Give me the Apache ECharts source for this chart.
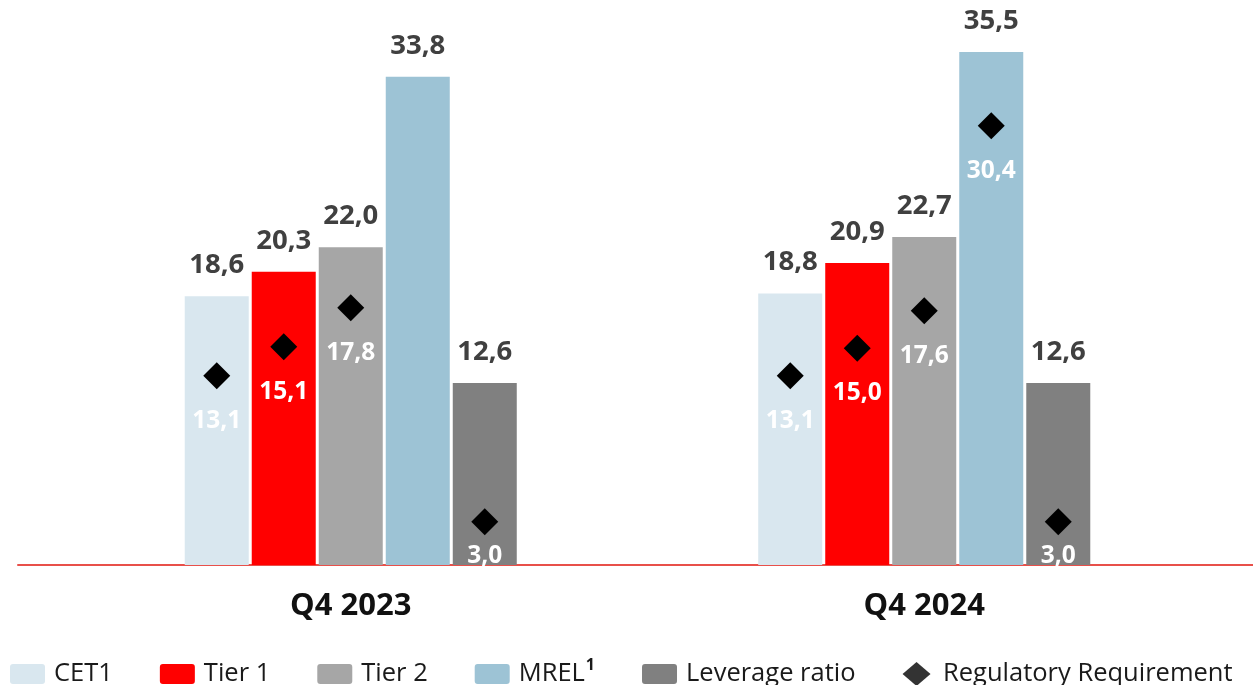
<!DOCTYPE html>
<html>
<head>
<meta charset="utf-8">
<script src="https://cdn.jsdelivr.net/npm/echarts@6/dist/echarts.min.js"></script>
<style>
html,body{margin:0;padding:0;background:#fff;}
#chart{width:1253px;height:685px;}
</style>
</head>
<body>
<div id="chart"></div>
<script>
const categories = ['Q4 2023', 'Q4 2024'];
const seriesNames = ['CET1', 'Tier 1', 'Tier 2', 'MREL', 'Leverage ratio'];
const cet1 = [18.6, 18.8];
const tier1 = [20.3, 20.9];
const tier2 = [22.0, 22.7];
const mrel = [33.8, 35.5];
const leverage = [12.6, 12.6];
const reqCet1 = [13.1, 13.1];
const reqTier1 = [15.1, 15.0];
const reqTier2 = [17.8, 17.6];
const reqMrel = [null, 30.4];
const reqLeverage = [3.0, 3.0];
const reqName = 'Regulatory Requirement';

const colors = ['#D9E7EF', '#FF0000', '#A6A6A6', '#9DC3D5', '#808080'];
const values = [cet1, tier1, tier2, mrel, leverage];
const reqs = [reqCet1, reqTier1, reqTier2, reqMrel, reqLeverage];
const reqLabelOffset = [45, 45, 45, 45, 34];
const fmt = v => v.toFixed(1).replace('.', ',');
const FONT = 'Open Sans';
const rectIcon = 'path://M3,0L32,0Q35,0 35,3L35,17Q35,20 32,20L3,20Q0,20 0,17L0,3Q0,0 3,0Z';
const diamondIcon = 'path://M14,0L28,12L14,24L0,12Z';

const barSeries = seriesNames.map((name, i) => ({
  name: name,
  type: 'bar',
  xAxisIndex: 0, yAxisIndex: 0,
  data: values[i],
  barWidth: 64,
  barGap: '4.7%',
  itemStyle: { color: colors[i] },
  label: {
    show: true, position: 'top', distance: 16,
    formatter: p => fmt(p.value),
    fontFamily: FONT, fontWeight: 'bold', fontSize: 27.5, lineHeight: 30, color: '#404040'
  },
  markPoint: {
    symbol: 'diamond', symbolSize: 27,
    itemStyle: { color: '#000' },
    label: {
      show: true, position: 'inside', offset: [0, reqLabelOffset[i]],
      formatter: p => fmt(p.value),
      fontFamily: FONT, fontWeight: 'bold', fontSize: 24.5, color: '#FFFFFF'
    },
    data: reqs[i].map((v, j) => v == null ? null : { coord: [categories[j], v], value: v }).filter(d => d)
  }
}));

const option = {
  animation: false,
  grid: [
    { left: 64, right: 42, top: 16, bottom: 120 },
    { left: 18, right: 0, top: 16, bottom: 120 }
  ],
  xAxis: [
    {
      type: 'category', data: categories, gridIndex: 0,
      axisLine: { show: false }, axisTick: { show: false },
      axisLabel: { margin: 23, fontFamily: FONT, fontWeight: 'bold', fontSize: 31, lineHeight: 36, color: '#111' }
    },
    {
      type: 'category', data: [''], gridIndex: 1,
      axisLine: { show: true, lineStyle: { color: '#E8504A', width: 2 } },
      axisTick: { show: false }, axisLabel: { show: false }
    }
  ],
  yAxis: [
    { type: 'value', min: 0, max: 38, gridIndex: 0, show: false },
    { type: 'value', min: 0, max: 38, gridIndex: 1, show: false }
  ],
  legend: {
    top: 657, left: 10, itemGap: 47, padding: 0,
    itemWidth: 35, itemHeight: 24, symbolKeepAspect: true,
    textStyle: {
      fontFamily: FONT, fontSize: 25.5, lineHeight: 30, color: '#1a1a1a', padding: [0, 0, 0, 4],
      rich: {
        a: { fontFamily: FONT, fontSize: 25.5, lineHeight: 30, color: '#1a1a1a' },
        s: { fontFamily: FONT, fontSize: 16, fontWeight: 'bold', color: '#1a1a1a', padding: [0, 0, 18, 1] }
      }
    },
    formatter: n => n === 'MREL' ? '{a|MREL}{s|1}' : n,
    data: seriesNames.map(n => ({ name: n, icon: rectIcon }))
      .concat([{ name: reqName, icon: diamondIcon, itemStyle: { color: '#000' } }])
  },
  series: barSeries.concat([{
    name: reqName, type: 'scatter', xAxisIndex: 0, yAxisIndex: 0,
    symbol: 'diamond', itemStyle: { color: '#000' }, data: []
  }])
};

const chart = echarts.init(document.getElementById('chart'));
chart.setOption(option);
</script>
</body>
</html>
